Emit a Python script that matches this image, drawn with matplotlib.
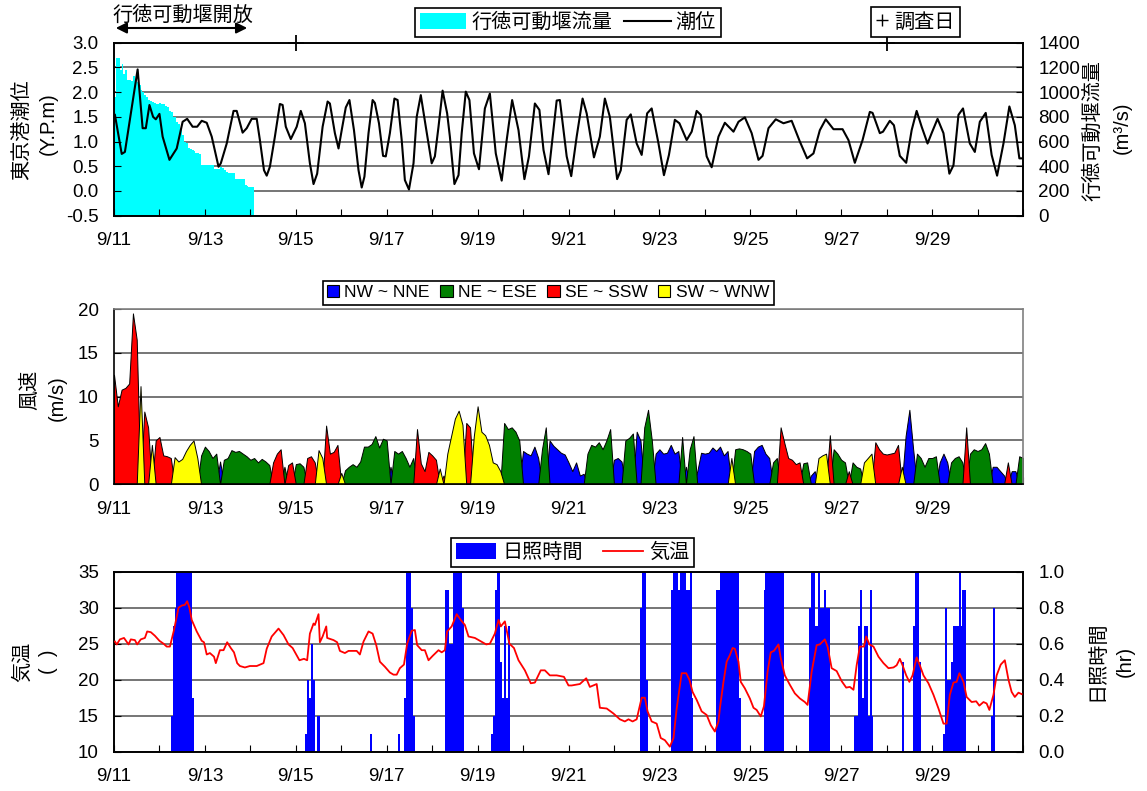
import numpy as np
import matplotlib
matplotlib.use('Agg')
import matplotlib.pyplot as plt
from matplotlib.patches import Patch, FancyArrowPatch
from matplotlib.lines import Line2D

plt.rcParams['font.family'] = ['Liberation Sans', 'Noto Sans CJK JP']
plt.rcParams['axes.unicode_minus'] = False

# ---------------- data ----------------
date_labels = ['9/11', '9/13', '9/15', '9/17', '9/19', '9/21', '9/23', '9/25', '9/27', '9/29']

# tide level (days since 9/11 00:00, Y.P. m)
tide_t = [0.02, 0.17, 0.24, 0.52, 0.63, 0.70, 0.78, 0.86, 0.92, 1.00, 1.07, 1.22, 1.38, 1.51, 1.61, 1.73,
          1.83, 1.93, 2.04, 2.15, 2.30, 2.35, 2.48, 2.63, 2.70, 2.83, 2.92, 3.03, 3.14, 3.21, 3.30, 3.36,
          3.43, 3.54, 3.65, 3.71, 3.78, 3.89, 4.02, 4.11, 4.20, 4.31, 4.39, 4.47, 4.59, 4.70, 4.75, 4.86,
          4.94, 5.01, 5.10, 5.18, 5.28, 5.38, 5.45, 5.51, 5.60, 5.69, 5.74, 5.83, 5.92, 5.98, 6.07, 6.17,
          6.24, 6.33, 6.40, 6.49, 6.59, 6.66, 6.75, 6.86, 6.99, 7.06, 7.14, 7.23, 7.33, 7.39, 7.49, 7.58,
          7.65, 7.74, 7.82, 7.92, 8.03, 8.16, 8.27, 8.40, 8.53, 8.64, 8.76, 8.90, 9.03, 9.13, 9.26, 9.36,
          9.45, 9.56, 9.74, 9.81, 9.96, 10.06, 10.18, 10.31, 10.40, 10.56, 10.69, 10.80, 10.91, 11.07,
          11.15, 11.28, 11.37, 11.50, 11.61, 11.73, 11.83, 11.98, 12.10, 12.21, 12.34, 12.44, 12.60,
          12.71, 12.82, 12.91, 13.04, 13.15, 13.30, 13.44, 13.63, 13.74, 13.88, 14.03, 14.18, 14.27,
          14.40, 14.56, 14.73, 14.91, 15.09, 15.25, 15.39, 15.53, 15.66, 15.83, 16.03, 16.16, 16.30,
          16.47, 16.63, 16.69, 16.85, 16.92, 17.07, 17.16, 17.29, 17.43, 17.55, 17.66, 17.77, 17.90,
          17.99, 18.12, 18.25, 18.38, 18.47, 18.58, 18.68, 18.83, 18.94, 19.05, 19.18, 19.31, 19.43,
          19.57, 19.70, 19.82, 19.92, 19.97]
tide_v = [1.54, 0.75, 0.79, 2.46, 1.27, 1.27, 1.74, 1.50, 1.45, 1.56, 1.10, 0.63, 0.86, 1.40, 1.46, 1.30,
          1.30, 1.42, 1.38, 1.10, 0.49, 0.56, 0.96, 1.62, 1.62, 1.18, 1.27, 1.46, 1.46, 1.03, 0.42, 0.31,
          0.49, 1.10, 1.76, 1.74, 1.30, 1.05, 1.30, 1.62, 1.37, 0.56, 0.14, 0.35, 1.30, 1.81, 1.77, 1.17,
          0.86, 1.23, 1.69, 1.84, 1.23, 0.42, 0.07, 0.29, 1.17, 1.84, 1.78, 1.37, 0.71, 0.70, 1.17, 1.87,
          1.84, 1.03, 0.22, 0.03, 0.56, 1.50, 1.94, 1.30, 0.56, 0.70, 1.30, 2.03, 1.57, 1.10, 0.14, 0.32,
          1.17, 2.01, 1.84, 0.76, 0.44, 1.67, 1.97, 0.76, 0.21, 1.03, 1.84, 1.23, 0.24, 0.70, 1.77, 1.64,
          0.83, 0.34, 1.83, 1.84, 0.70, 0.30, 1.10, 1.87, 1.57, 0.68, 1.10, 1.87, 1.50, 0.24,
          0.42, 1.44, 1.55, 0.96, 0.73, 1.57, 1.67, 0.96, 0.32, 0.73, 1.44, 1.37, 1.03,
          1.20, 1.62, 1.54, 0.70, 0.48, 1.10, 1.38, 1.20, 1.40, 1.49, 1.17, 0.63, 0.71,
          1.27, 1.45, 1.37, 1.42, 1.00, 0.66, 0.76, 1.23, 1.45, 1.25, 1.25, 1.03, 0.57,
          1.03, 1.60, 1.58, 1.17, 1.20, 1.42, 1.33, 0.71, 0.57, 1.23, 1.62, 1.30, 0.96,
          1.17, 1.46, 1.17, 0.35, 0.52, 1.54, 1.67, 0.96, 0.79, 1.40, 1.58, 0.73, 0.31,
          0.96, 1.71, 1.33, 0.66, 0.66]

# Gyotoku movable weir discharge, hourly from 9/11 00:00 (m3/s)
flow_hourly = [960, 1280, 1280, 1180, 1230, 1150, 1180, 1100, 1100, 1090,
               1130, 1090, 1080, 1060, 1020, 1000, 980, 960, 940, 930,
               920, 910, 900, 905, 910, 905, 900, 890, 880, 850,
               842, 800, 796, 760, 740, 690, 650, 600, 585, 550,
               540, 530, 520, 510, 505, 500, 410, 410, 410, 410,
               410, 410, 410, 380, 380, 380, 395, 385, 370, 350,
               345, 345, 343, 343, 300, 300, 300, 300, 300, 245,
               240, 235, 232, 232]

survey_days = [4.0, 17.0]

# wind speed every 2 hours (m/s), one row per day; direction class per value
# N: NW~NNE, E: NE~ESE, S: SE~SSW, W: SW~WNW
wind_speed = [
    [12.5, 8.9, 10.8, 11.0, 11.5, 19.5, 16.5, 11.2, 8.3, 6.5, 4.5, 5.0],
    [5.4, 3.3, 3.2, 3.0, 3.1, 2.6, 2.9, 3.8, 4.5, 5.0, 3.0, 3.3],
    [4.3, 3.8, 3.0, 3.5, 2.6, 2.8, 3.0, 3.9, 3.7, 3.8, 3.5, 3.2],
    [2.8, 3.0, 2.5, 2.9, 2.6, 2.2, 2.5, 3.5, 4.0, 2.0, 2.2, 2.5],
    [2.3, 2.4, 2.0, 3.0, 3.2, 2.5, 3.9, 3.0, 6.7, 3.5, 3.7, 4.5],
    [1.3, 1.6, 2.0, 2.3, 2.0, 2.6, 4.3, 4.3, 4.6, 5.5, 4.2, 5.2],
    [5.0, 2.0, 3.8, 3.5, 3.8, 3.0, 2.0, 3.0, 6.3, 2.4, 1.5, 3.7],
    [3.3, 2.8, 1.8, 1.0, 3.5, 5.5, 7.5, 8.4, 6.8, 7.0, 6.5, 5.5],
    [8.9, 6.0, 5.6, 4.5, 2.5, 2.3, 1.5, 7.0, 6.3, 6.5, 6.0, 5.0],
    [3.8, 3.5, 3.3, 4.3, 3.0, 4.0, 6.5, 5.0, 4.4, 4.0, 3.6, 3.4],
    [2.5, 1.5, 2.5, 1.0, 1.2, 3.5, 4.5, 4.3, 4.8, 4.0, 5.0, 6.3],
    [2.8, 3.0, 2.6, 5.0, 5.3, 5.8, 6.0, 5.0, 6.5, 8.5, 5.0, 3.5],
    [4.0, 3.5, 3.6, 4.5, 3.5, 3.8, 5.4, 2.0, 4.0, 5.5, 1.5, 3.6],
    [3.5, 3.6, 4.2, 3.8, 4.3, 3.3, 3.8, 3.0, 4.0, 4.1, 4.0, 3.8],
    [3.5, 3.8, 4.3, 4.5, 3.5, 3.0, 2.5, 3.0, 6.5, 4.7, 3.0, 2.8],
    [2.3, 2.5, 2.4, 2.5, 1.0, 1.5, 3.0, 3.3, 3.5, 5.6, 4.0, 3.5],
    [2.8, 2.5, 1.5, 2.5, 2.0, 1.8, 2.5, 3.0, 3.5, 4.8, 4.0, 3.5],
    [3.4, 3.5, 3.6, 4.5, 2.0, 5.5, 8.5, 4.0, 3.5, 3.0, 2.0, 3.0],
    [3.0, 3.2, 2.5, 3.5, 2.5, 2.5, 3.0, 3.2, 2.5, 6.5, 3.5, 4.0],
    [3.8, 4.0, 4.7, 3.5, 2.0, 2.0, 1.5, 1.0, 2.5, 1.5, 1.5, 3.2],
    [3.0],
]
wind_dir = [
    "SSSSSSSWSSWS", "SSSSWWWWWWWE", "EEEENEEEEEEE", "EEEEEESSSESS",
    "EEESSSWWSSSS", "WEEEEEEEEEEE", "ENEEEEEESSSS", "SSWSWWWWWSSW",
    "WWWWWWWEEEEE", "NNNNNEENNNNN", "NNNNNEEEEEEE", "NNNEEENNEEEN",
    "NNNNNNENEENN", "NNNNNNNWEEEE", "ENNNNNEESSSS", "SSEENNWWWSEE",
    "EESEEEWWWSSS", "SSSSWNNNEEEE", "EENNNEEEESEE", "EEEENNNNSNNE",
    "E",
]
wind_classes = ['N', 'E', 'S', 'W']
wind_class_labels = ['NW ~ NNE', 'NE ~ ESE', 'SE ~ SSW', 'SW ~ WNW']
wind_class_colors = ['#0000FF', '#008000', '#FF0000', '#FFFF00']

# air temperature (days since 9/11 00:00, deg C)
temp_t = [0.02, 0.06, 0.13, 0.22, 0.32, 0.37, 0.46, 0.51, 0.59, 0.68, 0.73, 0.81, 0.90, 1.00, 1.09, 1.16,
          1.23, 1.32, 1.42, 1.49, 1.56, 1.61, 1.66, 1.71, 1.82, 1.93, 1.98, 2.04, 2.11, 2.20, 2.24, 2.33,
          2.41, 2.49, 2.57, 2.64, 2.71, 2.77, 2.88, 2.99, 3.14, 3.29, 3.36, 3.47, 3.62, 3.73, 3.84, 3.93,
          4.08, 4.18, 4.25, 4.31, 4.39, 4.42, 4.50, 4.53, 4.59, 4.67, 4.69, 4.83, 4.91, 4.97, 5.08, 5.16,
          5.27, 5.34, 5.41, 5.49, 5.60, 5.69, 5.77, 5.85, 5.96, 6.07, 6.15, 6.22, 6.29, 6.38, 6.45, 6.55,
          6.62, 6.67, 6.77, 6.84, 6.92, 7.01, 7.14, 7.21, 7.28, 7.33, 7.43, 7.54, 7.63, 7.72, 7.80, 7.94,
          8.05, 8.19, 8.27, 8.38, 8.46, 8.51, 8.60, 8.70, 8.80, 8.90, 9.04, 9.17, 9.26, 9.39, 9.48, 9.59,
          9.74, 9.90, 10.00, 10.07, 10.25, 10.39, 10.47, 10.62, 10.69, 10.84, 10.99, 11.13, 11.24, 11.32,
          11.41, 11.50, 11.61, 11.68, 11.74, 11.83, 11.94, 12.03, 12.12, 12.23, 12.31, 12.38, 12.49, 12.59,
          12.66, 12.73, 12.82, 12.93, 13.04, 13.13, 13.22, 13.30, 13.33, 13.41, 13.48, 13.55, 13.61, 13.66,
          13.74, 13.79, 13.88, 13.99, 14.07, 14.14, 14.23, 14.30, 14.38, 14.45, 14.52, 14.62, 14.67, 14.76,
          14.87, 14.98, 15.09, 15.20, 15.26, 15.35, 15.46, 15.53, 15.64, 15.70, 15.79, 15.90, 16.01, 16.11,
          16.19, 16.27, 16.34, 16.41, 16.50, 16.55, 16.62, 16.71, 16.82, 16.93, 17.04, 17.15, 17.22, 17.29,
          17.35, 17.43, 17.50, 17.57, 17.66, 17.73, 17.81, 17.92, 18.03, 18.14, 18.25, 18.32, 18.39, 18.47,
          18.54, 18.60, 18.69, 18.76, 18.87, 18.97, 19.04, 19.13, 19.20, 19.26, 19.35, 19.42, 19.51, 19.60,
          19.68, 19.75, 19.82, 19.90, 19.97]
temp_v = [25.3, 24.9, 25.6, 25.8, 24.9, 25.6, 25.5, 24.9, 25.6, 25.8, 26.7, 26.6, 26.1, 25.4, 25.0, 24.6,
          24.6, 26.9, 30.0, 30.3, 30.4, 30.9, 30.0, 28.3, 26.7, 25.4, 25.2, 23.5, 23.7, 23.2, 22.3, 24.1,
          24.1, 25.2, 24.4, 23.8, 22.3, 21.9, 21.7, 21.9, 21.9, 22.3, 24.3, 26.0, 27.1, 26.2, 24.9, 24.4,
          22.7, 22.9, 22.7, 26.4, 27.8, 27.6, 29.1, 25.2, 26.0, 27.4, 25.8, 25.5, 25.2, 24.0, 23.7, 24.0,
          24.0, 24.0, 23.5, 25.3, 26.7, 26.4, 24.8, 22.5, 21.8, 21.0, 20.7, 20.7, 21.6, 22.1, 25.0, 26.8,
          26.9, 24.8, 24.1, 24.1, 22.7, 23.3, 24.1, 23.8, 24.1, 26.7, 27.4, 29.1, 28.3, 27.6, 26.0, 25.8,
          25.4, 24.9, 25.0, 26.4, 28.3, 27.4, 28.1, 25.0, 24.4, 22.7, 21.3, 19.5, 19.6, 21.3, 21.3, 20.6,
          20.6, 20.4, 19.2, 19.2, 19.4, 20.2, 19.0, 19.4, 16.1, 16.0, 15.3, 14.5, 14.2, 14.5,
          14.2, 14.5, 17.5, 17.5, 15.6, 14.2, 13.9, 11.9, 11.6, 10.7, 11.9, 16.0, 20.9, 20.9,
          20.0, 18.3, 17.2, 15.6, 15.1, 13.7, 12.8, 14.2, 16.0, 19.7, 22.5, 23.4, 24.4, 24.3,
          22.5, 19.7, 18.8, 17.4, 16.1, 15.8, 14.9, 16.3, 21.1, 23.8, 24.0, 24.9, 23.0, 20.6,
          19.3, 18.1, 17.4, 16.9, 16.5, 21.1, 24.8, 24.9, 25.6, 24.6, 21.6, 21.2, 19.8, 18.9,
          19.0, 18.6, 22.0, 24.6, 24.6, 26.0, 24.9, 24.6, 23.2, 22.3, 21.6, 21.7, 22.0, 22.9,
          22.0, 20.6, 19.7, 20.6, 23.1, 22.0, 20.6, 19.5, 17.9, 16.0, 13.9, 13.9, 17.9, 19.6,
          19.7, 20.9, 19.7, 17.6, 16.9, 17.0, 16.4, 16.9, 16.7, 15.8, 17.9, 20.6, 22.1, 22.7,
          20.0, 18.3, 17.6, 18.2, 18.0]

# sunshine duration (hr per hour): day index, first hour, hourly values
sun_day = [1, 4, 5, 6, 7, 8, 11, 12, 13, 14, 15, 16, 17, 17, 18, 19]
sun_start = [6, 5, 15, 6, 7, 7, 14, 6, 6, 7, 7, 7, 8, 14, 6, 7]
sun_vals = [
    [0.2, 0.7, 0.8, 1, 1, 1, 1, 1, 1, 1, 1, 0.3],
    [0.1, 0.4, 0.3, 0.6, 0.4, 0, 0.2, 0.2],
    [0.1],
    [0.1, 0, 0, 0.3, 1, 1, 1, 0.8, 0.2],
    [0.9, 0.9, 0.6, 0.6, 1, 1, 1, 1, 1, 0.8],
    [0.1, 0.2, 0.9, 1, 1, 0.5, 0.3, 0.7, 0.3, 0.7],
    [0.8, 1, 1, 0.4],
    [0.9, 1, 1, 1, 0.9, 1, 1, 1, 0.9, 0.9, 1, 0.3],
    [0.9, 0.9, 1, 1, 1, 1, 1, 1, 1, 1, 1, 1, 0.3],
    [0.9, 1, 1, 1, 1, 1, 1, 1, 1, 1, 1],
    [0.8, 1, 1, 0.7, 0.7, 1, 0.8, 0.8, 0.9, 0.8, 0.8],
    [0.2, 0.2, 0.7, 0.9, 0.3, 0.7, 0.7, 0.2, 0.9, 0.2],
    [0.5],
    [0.7, 1, 1, 0.5],
    [0.1, 0.8, 0.4, 0.4, 0.5, 0.7, 0.7, 0.7, 1, 0.7, 0.9, 0.9],
    [0.2, 0.8],
]

# ---------------- figure ----------------
W, H = 1147, 791
fig = plt.figure(figsize=(W / 100, H / 100), dpi=100)


def rect(l, t, r, b):
    return [l / W, 1 - b / H, (r - l) / W, (b - t) / H]


TICK_FS = 13.5
LAB_FS = 14.5
GRID_C = '#505050'
ndays = 20
xt = np.arange(0, ndays + 1)
xt_labels = [date_labels[i // 2] if (i % 2 == 0 and i // 2 < len(date_labels)) else '' for i in xt]


def style_x(ax):
    ax.set_xlim(0, ndays)
    ax.set_xticks(xt)
    ax.set_xticklabels(xt_labels)
    ax.tick_params(axis='x', direction='in', length=5, labelsize=TICK_FS, pad=12)


def style_y(ax, right=False):
    ax.tick_params(axis='y', direction='in', length=5, labelsize=TICK_FS, pad=11,
                   left=not right, right=right, labelleft=not right, labelright=right)


# ---- panel 1: tide & discharge ----
ax1 = fig.add_axes(rect(114, 42.7, 1023, 215.7))
ax1r = ax1.twinx()
ax1.set_zorder(ax1r.get_zorder() + 1)
ax1.patch.set_visible(False)

hrs = np.arange(len(flow_hourly)) / 24.0
ax1r.bar(hrs, flow_hourly, width=1 / 24.0, align='edge', color='#00FFFF', linewidth=0, zorder=2)
ax1r.set_ylim(0, 1400)
ax1r.set_yticks(np.arange(0, 1401, 200))
ax1r.set_axisbelow(True)
ax1r.yaxis.grid(True, color=GRID_C, linewidth=1.1)
style_y(ax1r, right=True)

ax1.plot(tide_t, tide_v, color='black', linewidth=1.5, zorder=3)
ax1.plot(survey_days, [3.0] * len(survey_days), linestyle='none', marker='+', color='black',
         markersize=12, markeredgewidth=1.3, clip_on=False, zorder=5)
ax1.set_ylim(-0.5, 3.0)
ax1.set_yticks(np.arange(-0.5, 3.01, 0.5))
ax1.set_yticklabels(['%.1f' % v for v in np.arange(-0.5, 3.01, 0.5)])
style_y(ax1)
style_x(ax1)
for a in (ax1, ax1r):
    for s in a.spines.values():
        s.set_linewidth(1.2)

# ---- panel 2: wind ----
ax2 = fig.add_axes(rect(114, 309, 1023, 484.3))
speed = np.concatenate([np.array(r, dtype=float) for r in wind_speed])
dirs = np.array(list(''.join(wind_dir)))
t_w = np.arange(len(speed)) / 12.0
ax2.set_axisbelow(True)
ax2.yaxis.grid(True, color=GRID_C, linewidth=1.1)
for c, col in zip(wind_classes, wind_class_colors):
    y = np.where(dirs == c, speed, 0.0)
    ax2.fill_between(t_w, 0, y, facecolor=col, edgecolor='black', linewidth=0.7, zorder=2)
ax2.set_ylim(0, 20)
ax2.set_yticks([0, 5, 10, 15, 20])
style_y(ax2)
style_x(ax2)
for k, s in ax2.spines.items():
    s.set_linewidth(1.2)
    if k in ('top', 'right'):
        s.set_color('#808080')

# ---- panel 3: temperature & sunshine ----
ax3 = fig.add_axes(rect(114, 571.7, 1023, 751.7))
ax3r = ax3.twinx()
ax3.set_zorder(ax3r.get_zorder() + 1)
ax3.patch.set_visible(False)
for d, h0, vals in zip(sun_day, sun_start, sun_vals):
    tt = (d * 24 + h0 + np.arange(len(vals))) / 24.0
    ax3r.bar(tt, vals, width=1 / 24.0, align='edge', color='#0000FF', linewidth=0, zorder=2)
ax3r.set_ylim(0, 1.0)
ax3r.set_yticks(np.arange(0, 1.01, 0.2))
ax3r.set_yticklabels(['%.1f' % v for v in np.arange(0, 1.01, 0.2)])
ax3r.set_axisbelow(True)
ax3r.yaxis.grid(True, color=GRID_C, linewidth=1.1)
style_y(ax3r, right=True)

ax3.plot(temp_t, temp_v, color='#FF0000', linewidth=1.3, zorder=3)
ax3.set_ylim(10, 35)
ax3.set_yticks(np.arange(10, 36, 5))
style_y(ax3)
style_x(ax3)
for a in (ax3, ax3r):
    for s in a.spines.values():
        s.set_linewidth(1.2)

# ---------------- legends ----------------
leg_kw = dict(frameon=True, fancybox=False, edgecolor='black', framealpha=1, borderaxespad=0)
l1 = fig.legend(handles=[Patch(facecolor='#00FFFF', edgecolor='none', label='行徳可動堰流量'),
                         Line2D([], [], color='black', linewidth=1.5, label='潮位')],
                loc='center', bbox_to_anchor=(568 / W, 1 - 22.5 / H), ncol=2, fontsize=LAB_FS,
                handlelength=2.3, handleheight=0.8, columnspacing=0.6, handletextpad=0.25,
                borderpad=0.25, **leg_kw)
l1.get_frame().set_linewidth(1.2)
l2 = fig.legend(handles=[Line2D([], [], linestyle='none', marker='+', color='black', markersize=8,
                                markeredgewidth=1.0, label='調査日')],
                loc='center', bbox_to_anchor=(915.5 / W, 1 - 22 / H), fontsize=LAB_FS,
                handlelength=0.6, handletextpad=0.3, borderpad=0.25, **leg_kw)
l2.get_frame().set_linewidth(1.2)
l3 = fig.legend(handles=[Patch(facecolor=c, edgecolor='black', linewidth=0.8, label=l)
                         for c, l in zip(wind_class_colors, wind_class_labels)],
                loc='center', bbox_to_anchor=(548 / W, 1 - 292.5 / H), ncol=4, fontsize=12.6,
                handlelength=0.7, handleheight=0.7, columnspacing=0.6, handletextpad=0.3,
                borderpad=0.25, **leg_kw)
l3.get_frame().set_linewidth(1.2)
l4 = fig.legend(handles=[Patch(facecolor='#0000FF', edgecolor='none', label='日照時間'),
                         Line2D([], [], color='#FF0000', linewidth=1.3, label='気温')],
                loc='center', bbox_to_anchor=(572.5 / W, 1 - 552.5 / H), ncol=2, fontsize=LAB_FS,
                handlelength=2.0, handleheight=0.8, columnspacing=1.0, handletextpad=0.3,
                borderpad=0.25, **leg_kw)
l4.get_frame().set_linewidth(1.2)

# ---------------- axis titles ----------------
def ftext(x, y, s, **kw):
    fig.text(x / W, 1 - y / H, s, rotation=90, ha='center', va='center', fontsize=LAB_FS, **kw)


ftext(21.5, 130, '東京港潮位')
ftext(48, 124, '(Y.P.m)')
ftext(1093, 131, '行徳可動堰流量')
ftext(1122, 128, '(m³/s)')
ftext(30, 390, '風速')
ftext(57, 398, '(m/s)')
ftext(22, 662, '気温')
ftext(48, 662, '(  )')
ftext(1097, 661, '日照時間')
ftext(1125, 661, '(hr)')

# ---------------- annotation: weir open period ----------------
fig.text(183 / W, 1 - 15 / H, '行徳可動堰開放', ha='center', va='center', fontsize=LAB_FS)
arr = FancyArrowPatch((113 / W, 1 - 28 / H), (250 / W, 1 - 28 / H), transform=fig.transFigure,
                      arrowstyle='<|-|>', mutation_scale=16, color='black', linewidth=1.5)
fig.add_artist(arr)

fig.savefig('out.png', dpi=100)
